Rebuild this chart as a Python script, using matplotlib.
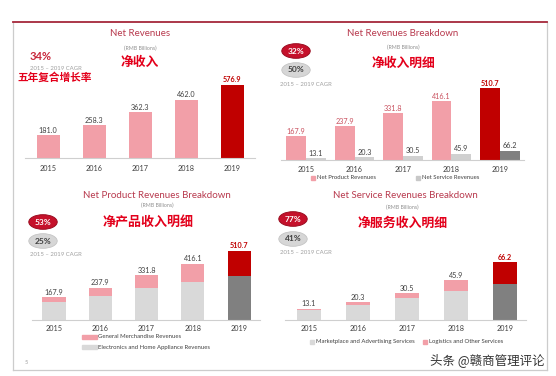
import matplotlib
matplotlib.use("Agg")
import matplotlib.pyplot as plt
from matplotlib.patches import Rectangle
from matplotlib.lines import Line2D

years = ["2015", "2016", "2017", "2018", "2019"]
net_revenues = [181.0, 258.3, 362.3, 462.0, 576.9]
product_rev = [167.9, 237.9, 331.8, 416.1, 510.7]
service_rev = [13.1, 20.3, 30.5, 45.9, 66.2]
electronics_rev = [132.0, 179.0, 236.0, 280.0, 328.7]
general_merch_rev = [p - e for p, e in zip(product_rev, electronics_rev)]
marketplace_rev = [10.9, 17.2, 25.1, 33.3, 41.5]
logistics_rev = [s - m for s, m in zip(service_rev, marketplace_rev)]

W, H = 556, 376
plt.rcParams['font.family'] = ['Lato', 'Noto Sans CJK SC', 'DejaVu Sans']
fig = plt.figure(figsize=(W / 100, H / 100), dpi=100)
fig.patch.set_facecolor('white')

PINK = '#f29fa8'
DRED = '#c00000'
LGREY = '#d9d9d9'
DGREY = '#808080'
TITLE_C = '#b83a4e'
TXT = '#404040'
CJK_RED = '#e3001b'
CJK = ['Noto Sans CJK SC', 'DejaVu Sans']


def fx(x):
    return x / W


def fy(y):
    return 1 - y / H


def add_ax(x0, ytop, x1, ybase, xl, xr):
    ax = fig.add_axes([fx(x0), fy(ybase), (x1 - x0) / W, (ybase - ytop) / H])
    ax.set_xlim(xl, xr)
    for s in ['top', 'right', 'left']:
        ax.spines[s].set_visible(False)
    ax.spines['bottom'].set_color('#cfcfcf')
    ax.spines['bottom'].set_linewidth(0.8)
    ax.set_yticks([])
    ax.patch.set_alpha(0)
    return ax


def ftext(x, y, s, **kw):
    kw.setdefault('ha', 'center')
    kw.setdefault('va', 'center')
    fig.text(fx(x), fy(y), s, **kw)


def badge(x, y, s, red=True):
    if red:
        ftext(x, y, s, fontsize=6, fontweight='bold', color='white',
              bbox=dict(boxstyle='ellipse,pad=0.2', fc='#c5112b', ec='#9a0c20', lw=0.7))
    else:
        ftext(x, y, s, fontsize=6, fontweight='bold', color='#404040',
              bbox=dict(boxstyle='ellipse,pad=0.2', fc='#d6d6d6', ec='#c4c4c4', lw=0.6))


def fsquare(x, y, w, h, c):
    fig.patches.append(Rectangle((fx(x), fy(y + h / 2)), w / W, h / H, color=c,
                                 transform=fig.transFigure, figure=fig))


# frame
fig.lines.append(Line2D([fx(13), fx(13)], [fy(22), fy(370)], color='#cccccc', lw=0.9, transform=fig.transFigure))
fig.lines.append(Line2D([fx(547), fx(547)], [fy(22), fy(370)], color='#cccccc', lw=0.9, transform=fig.transFigure))
fig.lines.append(Line2D([fx(13), fx(547)], [fy(370), fy(370)], color='#cccccc', lw=0.9, transform=fig.transFigure))
fig.lines.append(Line2D([fx(13), fx(547)], [fy(22), fy(22)], color='#a5283a', lw=1.3, transform=fig.transFigure))

x = list(range(5))

# ---------- Chart 1: Net Revenues ----------
ax1 = add_ax(25, 70, 255, 158, -0.5, 4.5)
ax1.set_ylim(0, 695)
cols1 = [PINK] * 4 + [DRED]
ax1.bar(x, net_revenues, width=0.5, color=cols1)
for i, v in enumerate(net_revenues):
    ax1.text(i, v + 12, f"{v:.1f}", ha='center', va='bottom', fontsize=5.2,
             color=(DRED if i == 4 else TXT), fontweight=('bold' if i == 4 else 'normal'))
ax1.set_xticks(x, years, fontsize=5.2, color=TXT)
ax1.tick_params(axis='x', length=0, pad=5)

ftext(140, 34, "Net Revenues", fontsize=7, color=TITLE_C)
ftext(140, 48, "(RMB Billions)", fontsize=3.8, color='#909090')
ftext(140, 62, "净收入", fontsize=9.2, fontweight='bold', color=CJK_RED, family=CJK)
ftext(30, 57, "34%", fontsize=8, fontweight='bold', color='#c8283c', ha='left')
ftext(30, 68, "2015 – 2019 CAGR", fontsize=4.3, color='#a0a0a0', ha='left')
ftext(17, 78, "五年复合增长率", fontsize=7.7, fontweight='bold', color=CJK_RED, family=CJK, ha='left')

# ---------- Chart 2: Net Revenues Breakdown ----------
ax2 = add_ax(281, 80, 524, 160, -0.52, 4.5)
ax2.set_ylim(0, 567)
bw = 0.41
ax2.bar([i - 0.205 for i in x], product_rev, width=bw, color=[PINK] * 4 + [DRED])
ax2.bar([i + 0.205 for i in x], service_rev, width=bw, color=['#d0d0d0'] * 4 + [DGREY])
for i in x:
    ax2.text(i - 0.205, product_rev[i] + 10, f"{product_rev[i]:.1f}", ha='center', va='bottom',
             fontsize=5.2, color=(DRED if i == 4 else '#c9505e'), fontweight=('bold' if i == 4 else 'normal'))
    ax2.text(i + 0.205, service_rev[i] + 10, f"{service_rev[i]:.1f}", ha='center', va='bottom',
             fontsize=5.2, color=TXT)
ax2.set_xticks(x, years, fontsize=5.2, color=TXT)
ax2.tick_params(axis='x', length=0, pad=4.3)

ftext(403, 34, "Net Revenues Breakdown", fontsize=7, color=TITLE_C)
ftext(403, 47, "(RMB Billions)", fontsize=3.8, color='#909090')
ftext(403, 63, "净收入明细", fontsize=9.2, fontweight='bold', color=CJK_RED, family=CJK)
badge(296, 51, "32%", red=True)
badge(296, 70, "50%", red=False)
ftext(280, 84, "2015 – 2019 CAGR", fontsize=4.3, color='#a0a0a0', ha='left')
fsquare(311, 178, 4, 4, PINK)
ftext(317, 178, "Net Product Revenues", fontsize=4.3, color=TXT, ha='left')
fsquare(416, 178, 4, 4, '#c8c8c8')
ftext(422, 178, "Net Service Revenues", fontsize=4.3, color=TXT, ha='left')

# ---------- Chart 3: Net Product Revenues Breakdown ----------
ax3 = add_ax(32, 240, 260, 320, -0.475, 4.45)
ax3.set_ylim(0, 592)
ax3.bar(x, electronics_rev, width=0.5, color=[LGREY] * 4 + [DGREY])
ax3.bar(x, general_merch_rev, width=0.5, bottom=electronics_rev, color=[PINK] * 4 + [DRED])
for i, v in enumerate(product_rev):
    ax3.text(i, v + 12, f"{v:.1f}", ha='center', va='bottom', fontsize=5.2,
             color=(DRED if i == 4 else TXT), fontweight=('bold' if i == 4 else 'normal'))
ax3.set_xticks(x, years, fontsize=5.2, color=TXT)
ax3.tick_params(axis='x', length=0, pad=3.6)

ftext(157, 196, "Net Product Revenues Breakdown", fontsize=7, color=TITLE_C)
ftext(157, 205, "(RMB Billions)", fontsize=3.8, color='#909090')
ftext(148, 223, "净产品收入明细", fontsize=9.4, fontweight='bold', color=CJK_RED, family=CJK)
badge(43, 222, "53%", red=True)
badge(43, 241, "25%", red=False)
ftext(30, 254, "2015 – 2019 CAGR", fontsize=4.3, color='#a0a0a0', ha='left')
fsquare(82, 337, 15, 3.5, PINK)
ftext(98, 337, "General Merchandise Revenues", fontsize=4.3, color=TXT, ha='left')
fsquare(82, 347, 15, 3.5, LGREY)
ftext(98, 347, "Electronics and Home Appliance Revenues", fontsize=4.3, color=TXT, ha='left')
ftext(26, 362, "5", fontsize=4, color='#a0a0a0')

# ---------- Chart 4: Net Service Revenues Breakdown ----------
ax4 = add_ax(285, 240, 526, 320, -0.49, 4.43)
ax4.set_ylim(0, 91.3)
ax4.bar(x, marketplace_rev, width=0.5, color=[LGREY] * 4 + [DGREY])
ax4.bar(x, logistics_rev, width=0.5, bottom=marketplace_rev, color=[PINK] * 4 + [DRED])
for i, v in enumerate(service_rev):
    ax4.text(i, v + 1.3, f"{v:.1f}", ha='center', va='bottom', fontsize=5.2,
             color=(DRED if i == 4 else TXT), fontweight=('bold' if i == 4 else 'normal'))
ax4.set_xticks(x, years, fontsize=5.2, color=TXT)
ax4.tick_params(axis='x', length=0, pad=3.6)

ftext(405, 196, "Net Service Revenues Breakdown", fontsize=7, color=TITLE_C)
ftext(402, 207, "(RMB Billions)", fontsize=3.8, color='#909090')
ftext(403, 223, "净服务收入明细", fontsize=9.3, fontweight='bold', color=CJK_RED, family=CJK)
badge(293, 219, "77%", red=True)
badge(293, 239, "41%", red=False)
ftext(280, 253, "2015 – 2019 CAGR", fontsize=4.3, color='#a0a0a0', ha='left')
fsquare(310, 342, 4, 4, LGREY)
ftext(316, 342, "Marketplace and Advertising Services", fontsize=4.3, color=TXT, ha='left')
fsquare(423, 342, 4, 4, PINK)
ftext(429, 342, "Logistics and Other Services", fontsize=4.3, color=TXT, ha='left')

ftext(545, 360, "头条 @赣商管理评论", fontsize=9, color='#333333', ha='right', family=CJK)

fig.savefig("out.png", dpi=100, facecolor='white')
